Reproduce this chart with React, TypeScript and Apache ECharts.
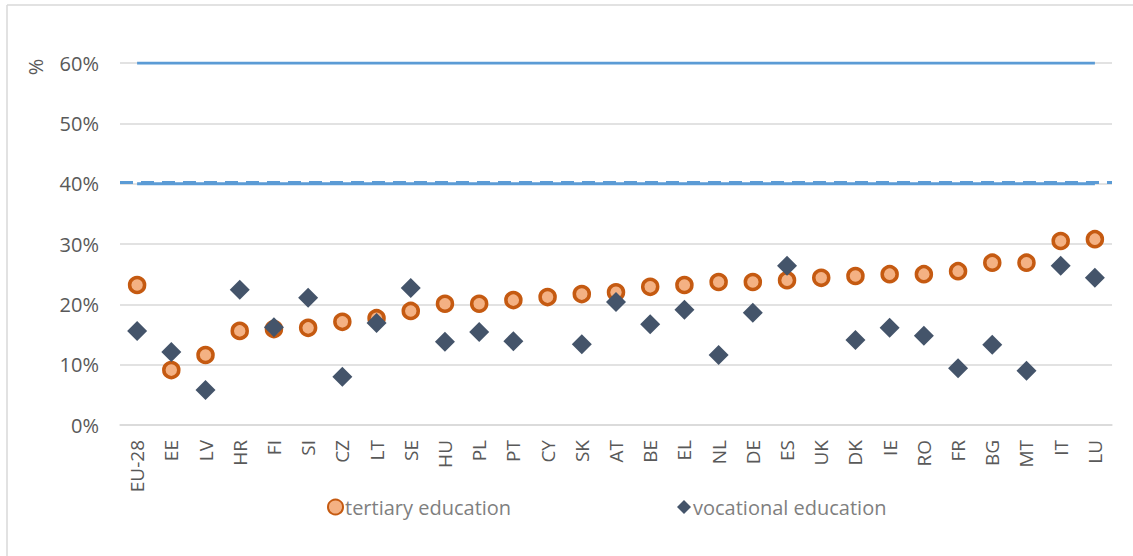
import React, { useEffect, useRef } from "react";
import * as echarts from "echarts";

const categories = ["EU-28","EE","LV","HR","FI","SI","CZ","LT","SE","HU","PL","PT","CY","SK","AT","BE","EL","NL","DE","ES","UK","DK","IE","RO","FR","BG","MT","IT","LU"];
const tertiary = [23.2,9.1,11.6,15.6,15.9,16.1,17.1,17.7,18.9,20.1,20.1,20.7,21.2,21.7,22.0,22.9,23.2,23.7,23.7,24.0,24.4,24.7,25.0,25.0,25.5,26.9,26.9,30.5,30.8];
const vocational: (number | null)[] = [15.6,12.1,5.8,22.4,16.2,21.1,8.0,16.9,22.7,13.8,15.4,13.9,null,13.4,20.4,16.7,19.1,11.6,18.6,26.4,null,14.1,16.1,14.8,9.4,13.3,9.0,26.4,24.4];
const targetVocational = 60;
const targetTertiary = 40;
const yTicks = [0, 10, 20, 30, 40, 50, 60];

export default function App() {
  const ref = useRef<HTMLDivElement>(null);
  useEffect(() => {
    if (!ref.current) return;
    const chart = echarts.init(ref.current, null, { renderer: "svg" });
    const font = "'Open Sans', 'Liberation Sans', sans-serif";
    const legendText = { color: "#7f7f7f", fontSize: 20, fontFamily: font, padding: [0, 0, 0, -3] };
    chart.setOption({
      animation: false,
      backgroundColor: "#ffffff",
      textStyle: { fontFamily: font },
      grid: { left: 120, right: 21, top: 63, bottom: 131, containLabel: false },
      legend: [
        {
          bottom: 34,
          left: 322,
          itemWidth: 15,
          itemHeight: 15,
          textStyle: legendText,
          data: [{ name: "tertiary education", icon: "circle" }],
        },
        {
          bottom: 34,
          left: 672,
          itemWidth: 14,
          itemHeight: 14,
          textStyle: legendText,
          data: [{ name: "vocational education", icon: "diamond" }],
        },
      ],
      xAxis: {
        type: "category",
        data: categories,
        boundaryGap: true,
        axisLine: { lineStyle: { color: "#d9d9d9", width: 1.5 } },
        axisTick: { show: false },
        axisLabel: { rotate: 90, color: "#595959", fontSize: 19, margin: 15, interval: 0, fontFamily: font },
      },
      yAxis: {
        type: "value",
        min: 0,
        max: 60,
        interval: 10,
        axisLine: { show: false },
        axisTick: { show: false },
        splitLine: { lineStyle: { color: "#d9d9d9", width: 1.5 } },
        axisLabel: {
          color: "#595959",
          fontSize: 20,
          margin: 21,
          fontFamily: font,
          formatter: (v: number) => (yTicks.includes(v) ? v + "%" : ""),
        },
      },
      graphic: [
        { type: "line", shape: { x1: 7, y1: 5, x2: 1133, y2: 5 }, style: { stroke: "#d9d9d9", lineWidth: 1.5 } },
        { type: "line", shape: { x1: 7, y1: 5, x2: 7, y2: 556 }, style: { stroke: "#d9d9d9", lineWidth: 1.5 } },
        {
          type: "text",
          x: 35,
          y: 67,
          rotation: Math.PI / 2,
          style: { text: "%", fill: "#595959", fontSize: 20, fontFamily: font, align: "center", verticalAlign: "middle" },
        },
      ],
      series: [
        {
          name: "target60",
          type: "line",
          data: categories.map(() => targetVocational),
          symbol: "none",
          lineStyle: { color: "#5b9bd5", width: 3 },
          silent: true,
          z: 3,
        },
        {
          name: "target40",
          type: "line",
          data: categories.map(() => targetTertiary),
          symbol: "none",
          lineStyle: { color: "#5b9bd5", width: 3 },
          silent: true,
          z: 3,
          markLine: {
            silent: true,
            symbol: "none",
            label: { show: false },
            lineStyle: { color: "#5b9bd5", width: 3, type: [13, 8], opacity: 1 },
            data: [{ yAxis: targetTertiary + 0.2 }],
          },
        },
        {
          name: "tertiary education",
          type: "scatter",
          data: tertiary,
          symbol: "circle",
          symbolSize: 15,
          itemStyle: { color: "#f4b183", borderColor: "#c55a11", borderWidth: 3.5, opacity: 1 },
          z: 5,
        },
        {
          name: "vocational education",
          type: "scatter",
          data: vocational,
          symbol: "diamond",
          symbolSize: 20,
          itemStyle: { color: "#44546a", opacity: 1 },
          z: 6,
        },
      ],
    });
    return () => chart.dispose();
  }, []);
  return <div ref={ref} style={{ position: "fixed", left: 0, top: 0, width: 1133, height: 556 }} />;
}
